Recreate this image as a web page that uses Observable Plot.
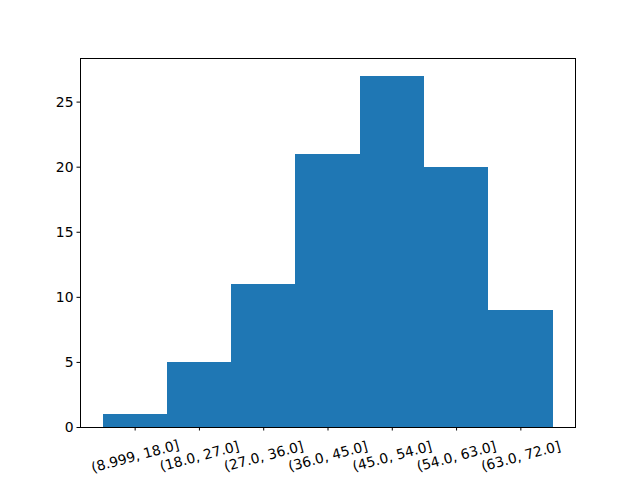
<!DOCTYPE html>
<html>
<head>
<meta charset="utf-8">
<script src="https://cdn.jsdelivr.net/npm/d3@7"></script>
<script src="https://cdn.jsdelivr.net/npm/@observablehq/plot@0.6"></script>
<style>
  html, body { margin: 0; padding: 0; background: #fff; }
  #chart { width: 640px; height: 480px; }
</style>
</head>
<body>
<div id="chart"></div>
<script>
const categories = ["(8.999, 18.0]", "(18.0, 27.0]", "(27.0, 36.0]", "(36.0, 45.0]", "(45.0, 54.0]", "(54.0, 63.0]", "(63.0, 72.0]"];
const counts = [1, 5, 11, 21, 27, 20, 9];
const yTicks = [0, 5, 10, 15, 20, 25];

const data = categories.map((c, i) => ({category: c, index: i, count: counts[i]}));
const n = categories.length;
const ymax = d3.max(counts) * 1.05;

const chart = Plot.plot({
  width: 640,
  height: 480,
  marginLeft: 80,
  marginRight: 65,
  marginTop: 58,
  marginBottom: 53,
  style: {fontFamily: "DejaVu Sans", fontSize: "13.9px", background: "#fff", color: "#000"},
  x: {domain: [-0.5 - 0.05 * n, n - 0.5 + 0.05 * n]},
  y: {domain: [0, ymax]},
  marks: [
    Plot.rectY(data, {x1: d => d.index - 0.5, x2: d => d.index + 0.5, y1: 0, y2: "count", fill: "#1f77b4", inset: 0, shapeRendering: "crispEdges"}),
    Plot.frame({stroke: "#000", strokeWidth: 1}),
    Plot.axisY({ticks: yTicks, tickSize: 3.5, tickPadding: 3.5, fontSize: 13.9, label: null, tickFormat: d => String(d)}),
    Plot.axisX({ticks: d3.range(n), tickSize: 3.5, text: null, label: null}),
    Plot.text(data, {x: "index", y: 0, text: "category", dy: 29, rotate: -15, textAnchor: "middle", lineAnchor: "middle", fontSize: 13.9, fill: "#000"})
  ]
});
document.getElementById("chart").appendChild(chart);
</script>
</body>
</html>
